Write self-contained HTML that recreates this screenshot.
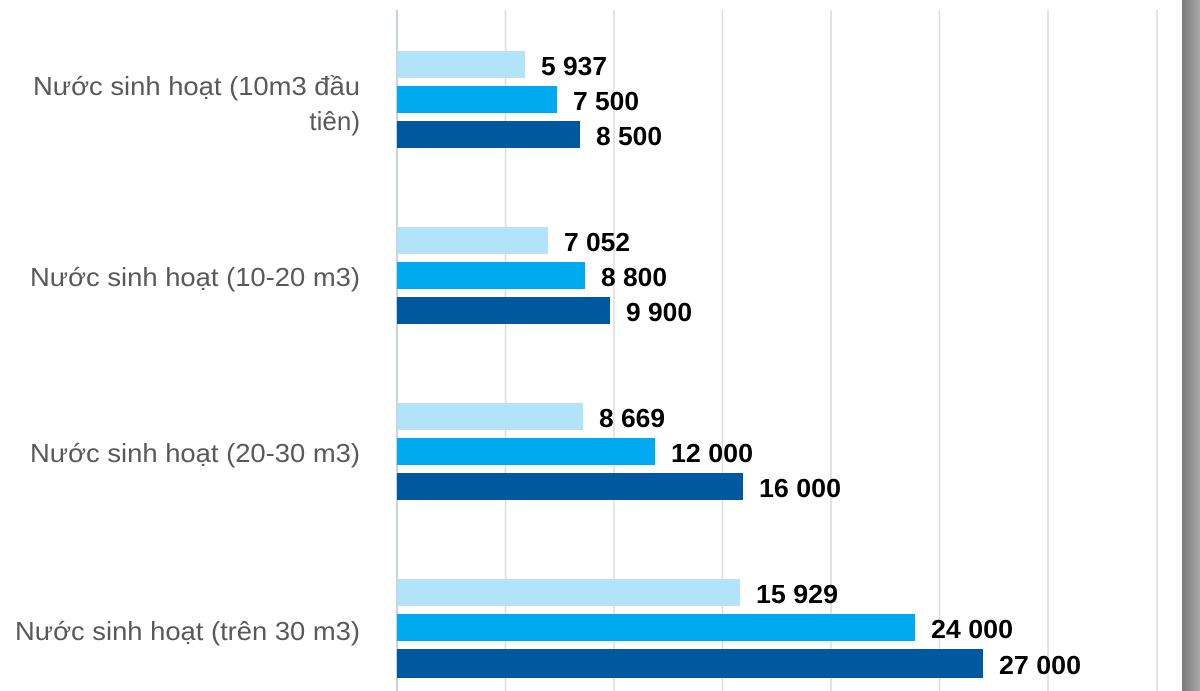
<!DOCTYPE html>
<html><head><meta charset="utf-8"><style>
html,body{margin:0;padding:0;background:#fff;}
svg{display:block;}
</style></head><body>
<svg width="1200" height="691" viewBox="0 0 1200 691" xmlns="http://www.w3.org/2000/svg">
<defs><linearGradient id="g" x1="0" x2="1"><stop offset="0" stop-color="#7a7a7a"/><stop offset="1" stop-color="#a8a8a8"/></linearGradient></defs>
<rect width="1200" height="691" fill="#fff"/>
<g stroke="#dcdcdc" stroke-width="1.5">
<line x1="505.5" y1="10" x2="505.5" y2="691"/>
<line x1="614" y1="10" x2="614" y2="691"/>
<line x1="722.5" y1="10" x2="722.5" y2="691"/>
<line x1="831" y1="10" x2="831" y2="691"/>
<line x1="939.5" y1="10" x2="939.5" y2="691"/>
<line x1="1048" y1="10" x2="1048" y2="691"/>
<line x1="1157" y1="10" x2="1157" y2="691"/>
</g>
<line x1="397" y1="10" x2="397" y2="691" stroke="#c9d3df" stroke-width="2"/>
<rect x="1182" y="0" width="18" height="691" fill="url(#g)"/>
<g>
<rect x="397" y="51" width="128" height="27" fill="#b3e3f8"/>
<rect x="397" y="86" width="160" height="27" fill="#00aaf0"/>
<rect x="397" y="121" width="183" height="27" fill="#00589e"/>
<rect x="397" y="227" width="151" height="27" fill="#b3e3f8"/>
<rect x="397" y="262" width="188" height="27" fill="#00aaf0"/>
<rect x="397" y="297" width="213" height="27" fill="#00589e"/>
<rect x="397" y="403" width="186" height="27" fill="#b3e3f8"/>
<rect x="397" y="438" width="258" height="27" fill="#00aaf0"/>
<rect x="397" y="473" width="346" height="27" fill="#00589e"/>
<rect x="397" y="579" width="343" height="27" fill="#b3e3f8"/>
<rect x="397" y="614" width="518" height="27" fill="#00aaf0"/>
<rect x="397" y="649" width="586" height="29" fill="#00589e"/>
</g>
<g font-family="Liberation Sans, sans-serif" font-weight="bold" font-size="26" fill="#000">
<text x="541" y="75" textLength="66" lengthAdjust="spacingAndGlyphs">5 937</text>
<text x="573" y="110" textLength="66" lengthAdjust="spacingAndGlyphs">7 500</text>
<text x="596" y="145" textLength="66" lengthAdjust="spacingAndGlyphs">8 500</text>
<text x="564" y="251" textLength="66" lengthAdjust="spacingAndGlyphs">7 052</text>
<text x="601" y="286" textLength="66" lengthAdjust="spacingAndGlyphs">8 800</text>
<text x="626" y="321" textLength="66" lengthAdjust="spacingAndGlyphs">9 900</text>
<text x="599" y="427" textLength="66" lengthAdjust="spacingAndGlyphs">8 669</text>
<text x="671" y="462" textLength="82" lengthAdjust="spacingAndGlyphs">12 000</text>
<text x="759" y="497" textLength="82" lengthAdjust="spacingAndGlyphs">16 000</text>
<text x="756" y="603" textLength="82" lengthAdjust="spacingAndGlyphs">15 929</text>
<text x="931" y="638" textLength="82" lengthAdjust="spacingAndGlyphs">24 000</text>
<text x="999" y="674" textLength="82" lengthAdjust="spacingAndGlyphs">27 000</text>
</g>
<g font-family="Liberation Sans, sans-serif" font-size="26" fill="#595959" text-anchor="end">
<text x="360" y="95" textLength="327" lengthAdjust="spacingAndGlyphs">Nước sinh hoạt (10m3 đầu</text>
<text x="360" y="130">tiên)</text>
<text x="360" y="286" textLength="330" lengthAdjust="spacingAndGlyphs">Nước sinh hoạt (10-20 m3)</text>
<text x="360" y="462" textLength="330" lengthAdjust="spacingAndGlyphs">Nước sinh hoạt (20-30 m3)</text>
<text x="360" y="640" textLength="345" lengthAdjust="spacingAndGlyphs">Nước sinh hoạt (trên 30 m3)</text>
</g>
</svg>
</body></html>
